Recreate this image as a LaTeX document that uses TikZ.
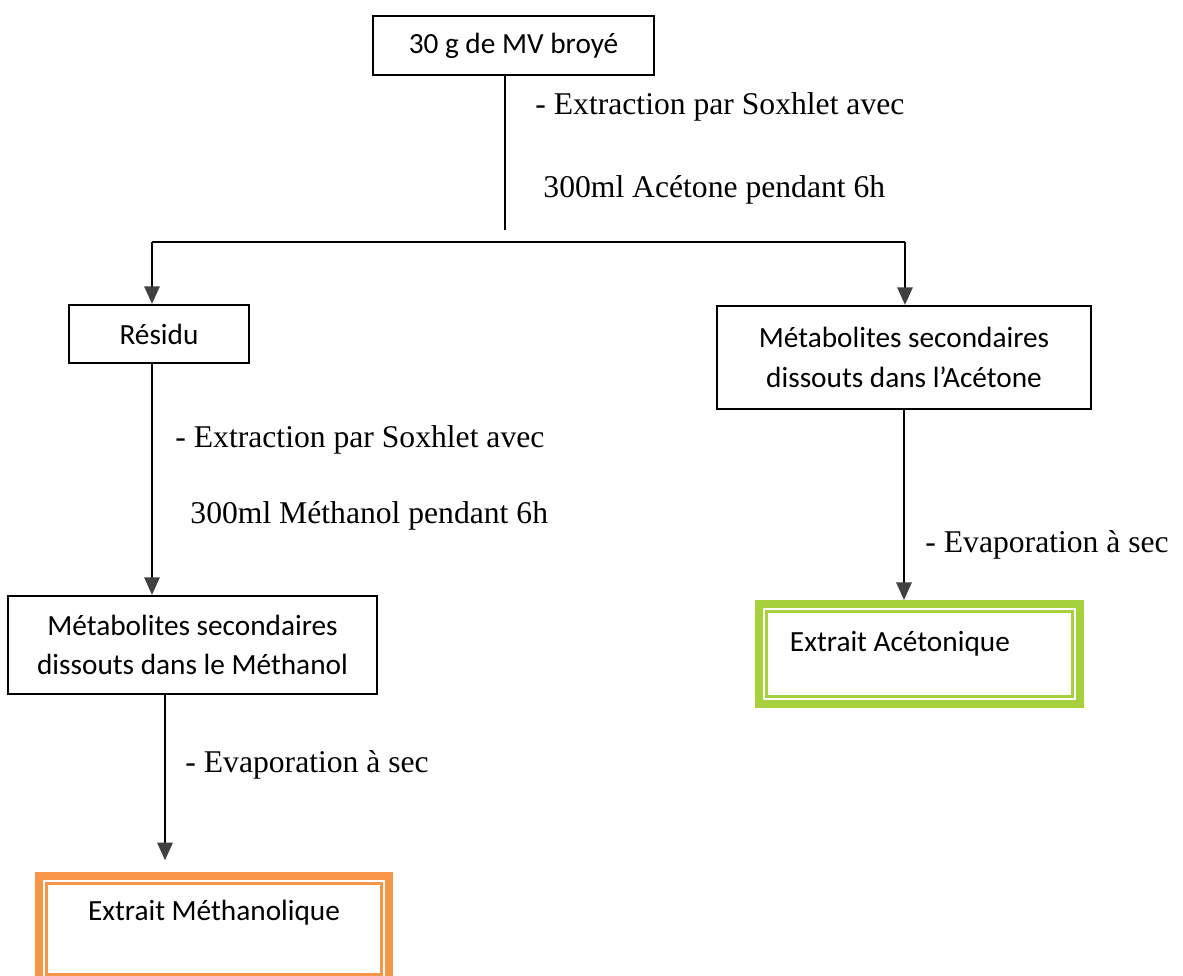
\documentclass[tikz,border=0pt]{standalone}
\usepackage{fontspec}
\setmainfont{Liberation Serif}
\newfontfamily\boxfont{Carlito}
\usetikzlibrary{calc,positioning,arrows.meta}
\definecolor{ExtraitOrange}{RGB}{247,150,70}
\definecolor{ExtraitGreen}{RGB}{166,208,60}
\definecolor{TipGrey}{RGB}{64,64,64}

\begin{document}
\begin{tikzpicture}[x=0.015cm,y=-0.015cm,
  stepbox/.style={draw,line width=0.9pt,align=center,inner sep=0pt,font=\boxfont\fontsize{12.5}{17}\selectfont},
  extrait/.style={draw=#1,line width=3.4pt,align=center,inner sep=0pt,font=\boxfont\fontsize{12.5}{17}\selectfont},
  note/.style={anchor=west,inner sep=0pt,font=\fontsize{13.5}{16}\selectfont},
  flow/.style={line width=0.9pt,-{Triangle[width=6.5pt,length=7.5pt,color=TipGrey]}}]
  \useasboundingbox (0,0) rectangle (1183,976);
  \node[stepbox,minimum width=4.215cm,minimum height=0.885cm] (mv) at (513.5,45.5) {30 g de MV broyé};
  \node[stepbox,minimum width=2.7cm,minimum height=0.87cm] (residu) at (159,334) {Résidu};
  \node[stepbox,minimum width=5.61cm,minimum height=1.545cm] (metAc) at (904,357.5) {Métabolites secondaires\\dissouts dans l’Acétone};
  \node[stepbox,minimum width=5.535cm,minimum height=1.47cm] (metMe) at (192.5,645) {Métabolites secondaires\\dissouts dans le Méthanol};
  \node[extrait=ExtraitGreen,minimum width=4.815cm,minimum height=1.5cm,text width=3.885cm,inner xsep=0.465cm,align=flush left,text depth=10.5pt] (extAc) at (919.5,654) {Extrait Acétonique};
  \node[extrait=ExtraitOrange,minimum width=5.25cm,minimum height=1.59cm,text depth=16pt] (extMe) at (214,929) {Extrait Méthanolique};
  \draw[ExtraitGreen,line width=1.3pt] ($(extAc.north west)+(11.5,11.5)$) rectangle ($(extAc.south east)+(-11.5,-11.5)$);
  \draw[ExtraitOrange,line width=1.3pt] ($(extMe.north west)+(11.5,11.5)$) rectangle ($(extMe.south east)+(-11.5,-11.5)$);

  \coordinate (stem) at (505,230);
  \coordinate (splitL) at (152,242);
  \coordinate (splitR) at (905,242);
  \coordinate (dropM) at (165,0);
  \draw[line width=0.9pt] (stem |- mv.south) -- (stem);
  \draw[line width=0.9pt] (splitL) -- (splitR);
  \draw[flow] (splitL) -- (splitL |- residu.north);
  \draw[flow] (splitR) -- (splitR |- metAc.north);
  \draw[flow] (splitL |- residu.south) -- (splitL |- metMe.north);
  \draw[flow] (metAc.south) -- (metAc.south |- extAc.north);
  \draw[flow,shorten >=5pt] (dropM |- metMe.south) -- (dropM |- extMe.north);

  \node[note] (extrA) at (535,107) {- Extraction par Soxhlet avec};
  \node[note] (solvA) at (543,190) {300ml Acétone pendant 6h};
  \node[note] (extrM) at (175,440) {- Extraction par Soxhlet avec};
  \node[note] (solvM) at (190,516) {300ml Méthanol pendant 6h};
  \node[note] (evapA) at (925,545) {- Evaporation à sec};
  \node[note] (evapM) at (185,765) {- Evaporation à sec};
\end{tikzpicture}
\end{document}
